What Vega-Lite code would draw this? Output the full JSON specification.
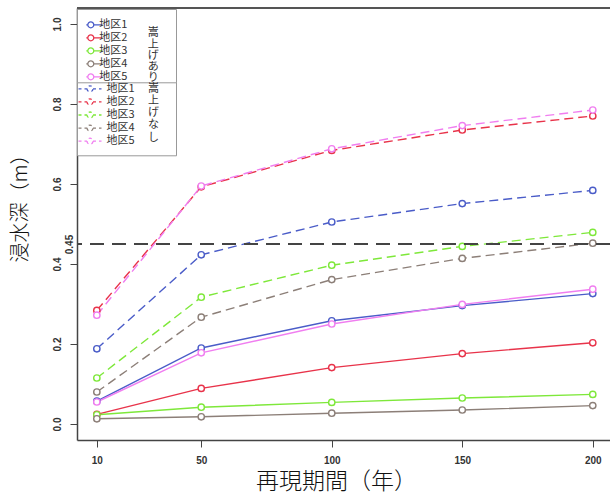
{
  "$schema": "https://vega.github.io/schema/vega-lite/v6.json",
  "width": 533,
  "height": 432,
  "autosize": {"type": "none"},
  "padding": {"left": 77, "top": 8, "right": 0, "bottom": 55},
  "background": "white",
  "config": {"view": {"stroke": null}, "font": "Liberation Sans"},
  "data": {"values": [
    {"x": 10, "d": "地区1", "t": "あり", "v": 0.057},
    {"x": 50, "d": "地区1", "t": "あり", "v": 0.190},
    {"x": 100, "d": "地区1", "t": "あり", "v": 0.258},
    {"x": 150, "d": "地区1", "t": "あり", "v": 0.296},
    {"x": 200, "d": "地区1", "t": "あり", "v": 0.326},
    {"x": 10, "d": "地区2", "t": "あり", "v": 0.024},
    {"x": 50, "d": "地区2", "t": "あり", "v": 0.089},
    {"x": 100, "d": "地区2", "t": "あり", "v": 0.141},
    {"x": 150, "d": "地区2", "t": "あり", "v": 0.176},
    {"x": 200, "d": "地区2", "t": "あり", "v": 0.203},
    {"x": 10, "d": "地区3", "t": "あり", "v": 0.023},
    {"x": 50, "d": "地区3", "t": "あり", "v": 0.042},
    {"x": 100, "d": "地区3", "t": "あり", "v": 0.054},
    {"x": 150, "d": "地区3", "t": "あり", "v": 0.065},
    {"x": 200, "d": "地区3", "t": "あり", "v": 0.074},
    {"x": 10, "d": "地区4", "t": "あり", "v": 0.013},
    {"x": 50, "d": "地区4", "t": "あり", "v": 0.018},
    {"x": 100, "d": "地区4", "t": "あり", "v": 0.027},
    {"x": 150, "d": "地区4", "t": "あり", "v": 0.035},
    {"x": 200, "d": "地区4", "t": "あり", "v": 0.046},
    {"x": 10, "d": "地区5", "t": "あり", "v": 0.055},
    {"x": 50, "d": "地区5", "t": "あり", "v": 0.178},
    {"x": 100, "d": "地区5", "t": "あり", "v": 0.250},
    {"x": 150, "d": "地区5", "t": "あり", "v": 0.299},
    {"x": 200, "d": "地区5", "t": "あり", "v": 0.337},
    {"x": 10, "d": "地区1", "t": "なし", "v": 0.188},
    {"x": 50, "d": "地区1", "t": "なし", "v": 0.423},
    {"x": 100, "d": "地区1", "t": "なし", "v": 0.505},
    {"x": 150, "d": "地区1", "t": "なし", "v": 0.551},
    {"x": 200, "d": "地区1", "t": "なし", "v": 0.584},
    {"x": 10, "d": "地区2", "t": "なし", "v": 0.284},
    {"x": 50, "d": "地区2", "t": "なし", "v": 0.593},
    {"x": 100, "d": "地区2", "t": "なし", "v": 0.684},
    {"x": 150, "d": "地区2", "t": "なし", "v": 0.735},
    {"x": 200, "d": "地区2", "t": "なし", "v": 0.770},
    {"x": 10, "d": "地区3", "t": "なし", "v": 0.115},
    {"x": 50, "d": "地区3", "t": "なし", "v": 0.317},
    {"x": 100, "d": "地区3", "t": "なし", "v": 0.397},
    {"x": 150, "d": "地区3", "t": "なし", "v": 0.444},
    {"x": 200, "d": "地区3", "t": "なし", "v": 0.479},
    {"x": 10, "d": "地区4", "t": "なし", "v": 0.080},
    {"x": 50, "d": "地区4", "t": "なし", "v": 0.267},
    {"x": 100, "d": "地区4", "t": "なし", "v": 0.361},
    {"x": 150, "d": "地区4", "t": "なし", "v": 0.414},
    {"x": 200, "d": "地区4", "t": "なし", "v": 0.452},
    {"x": 10, "d": "地区5", "t": "なし", "v": 0.272},
    {"x": 50, "d": "地区5", "t": "なし", "v": 0.595},
    {"x": 100, "d": "地区5", "t": "なし", "v": 0.688},
    {"x": 150, "d": "地区5", "t": "なし", "v": 0.746},
    {"x": 200, "d": "地区5", "t": "なし", "v": 0.785}
  ]},
  "layer": [
    {
      "transform": [{"filter": "datum.t == 'あり'"}],
      "encoding": {
        "x": {"field": "x", "type": "quantitative",
          "scale": {"domain": [2.4, 206.6], "nice": false, "zero": false},
          "axis": {"values": [10, 50, 100, 150, 200], "grid": false, "labelFlush": false,
            "title": "再現期間（年）", "titleFont": "Noto Sans CJK JP", "titleFontSize": 23, "titleFontWeight": 300, "titleColor": "#111",
            "titleX": 259, "titleY": 41, "titleBaseline": "middle", "titleAnchor": "middle",
            "labelFont": "Liberation Sans", "labelFontSize": 10, "labelFontWeight": "bold", "labelColor": "#333", "labelPadding": 8,
            "tickSize": 7, "tickColor": "#444", "domainColor": "#444", "domainWidth": 1.5}},
        "y": {"field": "v", "type": "quantitative",
          "scale": {"domain": [-0.04, 1.04], "nice": false, "zero": false},
          "axis": {"values": [0, 0.2, 0.4, 0.45, 0.6, 0.8, 1.0], "grid": false,
            "labelExpr": "datum.value == 0.45 ? '0.45' : format(datum.value, '.1f')",
            "labelAngle": -90, "labelAlign": "center", "labelBaseline": "bottom",
            "labelFont": "Liberation Sans", "labelFontSize": 10, "labelFontWeight": "bold", "labelColor": "#333",
            "labelPadding": {"condition": {"test": "datum.value == 0.45", "value": -4}, "value": 8},
            "tickOpacity": {"condition": {"test": "datum.value == 0.45", "value": 0}, "value": 1},
            "tickSize": 7, "tickColor": "#444", "domainColor": "#444", "domainWidth": 1.5,
            "title": "浸水深（m）", "titleFont": "Noto Sans CJK JP", "titleFontSize": 20, "titleFontWeight": 300, "titleColor": "#111",
            "titleX": -57, "titleY": 195, "titleBaseline": "middle", "titleAnchor": "middle", "titleAngle": -90}},
        "color": {"field": "d", "type": "nominal",
          "scale": {"domain": ["地区1", "地区2", "地区3", "地区4", "地区5"], "range": ["#4a5cc8", "#e8334a", "#7ee83a", "#8c7f78", "#f07ef0"]},
          "legend": {"title": ["嵩⠀", "上⠀", "げ⠀", "あ⠀", "り⠀"], "orient": "none", "legendX": 0, "legendY": 1,
            "titleOrient": "right", "titleAnchor": "end", "titleAlign": "left", "titleBaseline": "bottom",
            "titleFont": "Noto Sans CJK JP", "titleFontSize": 11, "titleFontWeight": "normal", "titleLineHeight": 11.3, "titleColor": "#333", "titlePadding": 20.4,
            "labelFont": "Noto Sans CJK JP", "labelFontSize": 11, "labelColor": "#333", "labelOffset": -4,
            "symbolType": "M-1,0H-0.26M0.26,0H1M-0.26,0A0.26,0.26,0,1,0,0.26,0A0.26,0.26,0,1,0,-0.26,0",
            "symbolSize": 529, "symbolStrokeWidth": 1.3, "symbolFillColor": "white", "symbolOffset": -8,
            "clipHeight": 13, "rowPadding": 0, "padding": 9.3,
            "fillColor": "white", "strokeColor": "#999"}}
      },
      "layer": [
        {"mark": {"type": "line", "strokeWidth": 1.4}},
        {"mark": {"type": "point", "filled": false, "fill": "white", "size": 40, "strokeWidth": 1.4, "opacity": 1}}
      ]
    },
    {
      "transform": [{"filter": "datum.t == 'なし'"}],
      "encoding": {
        "x": {"field": "x", "type": "quantitative"},
        "y": {"field": "v", "type": "quantitative"},
        "color": {"field": "d", "type": "nominal",
          "scale": {"domain": ["地区1", "地区2", "地区3", "地区4", "地区5"], "range": ["#4a5cc8", "#e8334a", "#7ee83a", "#8c7f78", "#f07ef0"]},
          "legend": {"title": ["嵩⠀⠀", "上⠀⠀", "げ⠀⠀", "な⠀⠀", "し⠀⠀", "⠀"], "orient": "none", "legendX": 0, "legendY": 74.3,
            "titleOrient": "right", "titleAnchor": "start", "titleAlign": "left", "titleBaseline": "top",
            "titleFont": "Noto Sans CJK JP", "titleFontSize": 11, "titleFontWeight": "normal", "titleLineHeight": 12.2, "titleColor": "#333", "titlePadding": 13.5,
            "labelFont": "Noto Sans CJK JP", "labelFontSize": 11, "labelColor": "#333", "labelOffset": 4,
            "symbolType": "M-1,0H-0.26M0.26,0H1M-0.26,0A0.26,0.26,0,1,0,0.26,0A0.26,0.26,0,1,0,-0.26,0",
            "symbolSize": 529, "symbolStrokeWidth": 1.3, "symbolFillColor": "white", "symbolDash": [3, 3],
            "clipHeight": 12, "rowPadding": 1.1, "padding": 0.5,
            "fillColor": "white", "strokeColor": "#999"}}
      },
      "layer": [
        {"mark": {"type": "line", "strokeWidth": 1.4, "strokeDash": [9, 5]}},
        {"mark": {"type": "point", "filled": false, "fill": "white", "size": 40, "strokeWidth": 1.4, "opacity": 1}}
      ]
    },
    {
      "mark": {"type": "rule", "color": "#444", "strokeDash": [14, 8], "strokeWidth": 1.2},
      "encoding": {"y": {"datum": 0.45}}
    },
    {
      "mark": {"type": "rule", "color": "#555", "strokeWidth": 2},
      "encoding": {"y": {"datum": 1.04}}
    }
  ],
  "resolve": {"scale": {"color": "independent"}}
}
